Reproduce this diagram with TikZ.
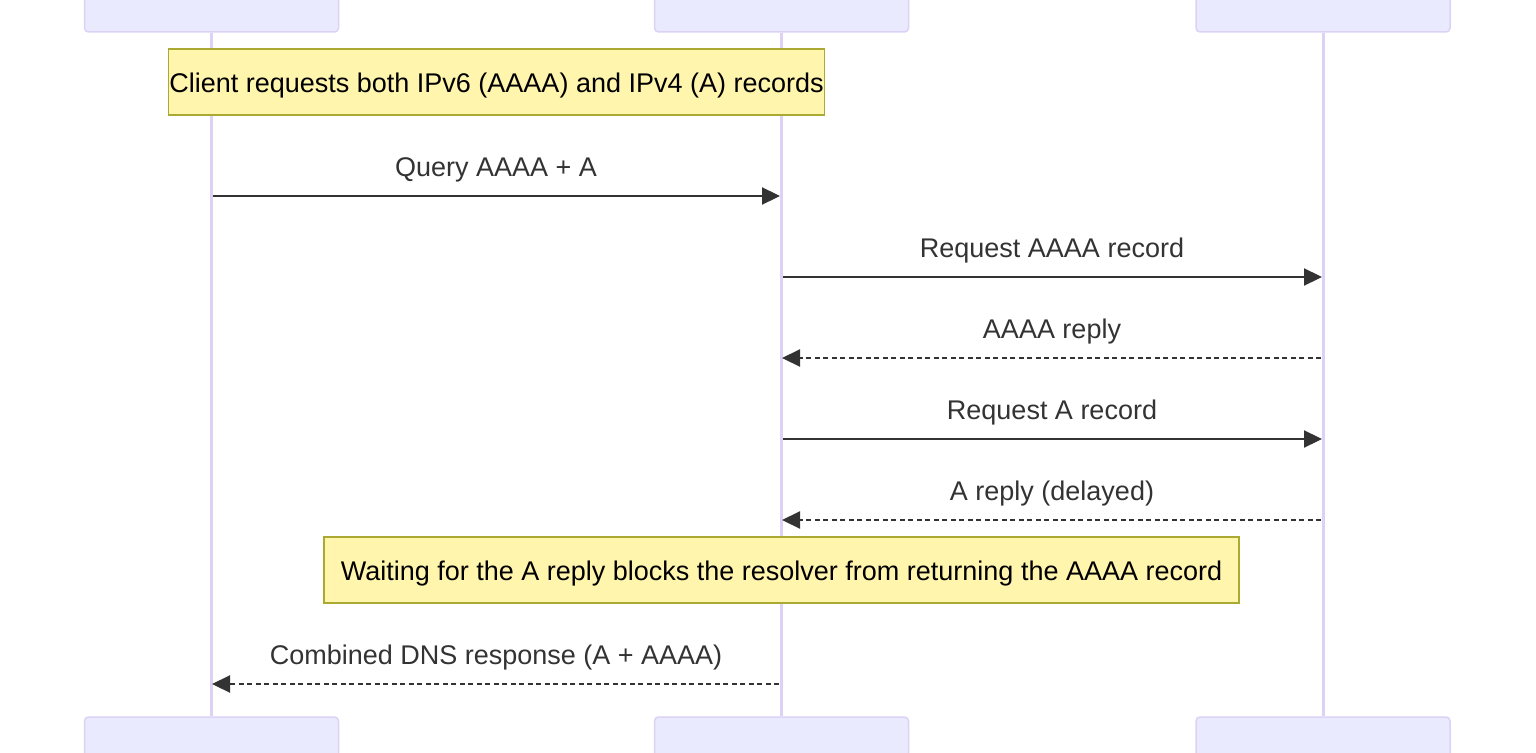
\documentclass[tikz,border=0pt]{standalone}
\usepackage{fontspec}
\setmainfont{Liberation Sans}
\usetikzlibrary{arrows.meta,positioning}
\definecolor{actfill}{HTML}{EAEAFE}
\definecolor{actline}{HTML}{DCD2F6}
\definecolor{notefill}{HTML}{FFF5AD}
\definecolor{noteline}{HTML}{AAAA33}
\definecolor{msgline}{HTML}{333333}
\begin{document}
\begin{tikzpicture}[x=1pt,y=-1pt,>={Triangle[length=18pt,width=17pt]},
  actor/.style={draw=actline,line width=1.5pt,rounded corners=4pt,fill=actfill,minimum width=254pt,minimum height=110pt},
  life/.style={draw=actline,line width=3pt},
  note/.style={draw=noteline,line width=1.5pt,fill=notefill,minimum height=66pt,inner xsep=1pt,text height=21pt,text depth=0pt,font=\fontsize{27}{31}\selectfont},
  msg/.style={->,draw=msgline,line width=2.2pt,shorten <=2pt,shorten >=1pt},
  reply/.style={msg,dash pattern=on 5pt off 3.5pt},
  lbl/.style={midway,anchor=base,yshift=20pt,text=msgline,font=\fontsize{27}{31}\selectfont}]
\clip (0,0) rectangle (1536,752);
\fill[white] (0,0) rectangle (1536,752);
\node[actor] (cliTop) at (211.5,-23) {};
\node[actor] (resTop) at (781.5,-23) {};
\node[actor] (dnsTop) at (1323,-23) {};
\node[actor] (cliBot) at (211.5,772) {};
\node[actor] (resBot) at (781.5,772) {};
\node[actor] (dnsBot) at (1323,772) {};
\draw[life] (cliTop.south -| 211,0) -- (cliBot.north -| 211,0);
\draw[life] (resTop.south -| 781,0) -- (resBot.north -| 781,0);
\draw[life] (dnsTop.south -| 1323,0) -- (dnsBot.north -| 1323,0);
\foreach \n/\y in {q/196,ra/277,aa/358,rb/439,ab/520,cd/684}{
  \coordinate (cli\n) at (211,\y);
  \coordinate (res\n) at (781,\y);
  \coordinate (dns\n) at (1323,\y);
}
\node[note,minimum width=655pt] (n1) at (496.5,82) {Client requests both IPv6 (AAAA) and IPv4 (A) records};
\draw[msg] (cliq) -- node[lbl]{Query AAAA + A} (resq);
\draw[msg] (resra) -- node[lbl]{Request AAAA record} (dnsra);
\draw[reply] (dnsaa) -- node[lbl]{AAAA reply} (resaa);
\draw[msg] (resrb) -- node[lbl]{Request A record} (dnsrb);
\draw[reply] (dnsab) -- node[lbl]{A reply (delayed)} (resab);
\node[note,minimum width=915pt] (n2) at (781.5,570) {Waiting for the A reply blocks the resolver from returning the AAAA record};
\draw[reply] (rescd) -- node[lbl]{Combined DNS response (A + AAAA)} (clicd);
\end{tikzpicture}
\end{document}
